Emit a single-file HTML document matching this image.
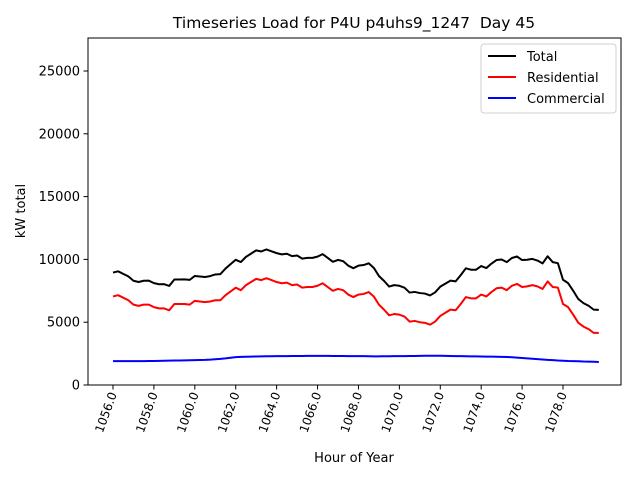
<!DOCTYPE html>
<html><head><meta charset="utf-8"><style>
body{margin:0;background:#fff;}
svg text{font-family:"DejaVu Sans","Liberation Sans",sans-serif;}
</style></head><body>
<svg id="chart" width="640" height="480" xmlns="http://www.w3.org/2000/svg">
<rect width="640" height="480" fill="#fff"/>
<text x="354" y="28" font-size="15.5" text-anchor="middle" style="white-space:pre">Timeseries Load for P4U p4uhs9_1247  Day 45</text>
<g id="grid"></g>
<g id="series"></g>
<rect x="88" y="38" width="533" height="347" fill="none" stroke="#000" stroke-width="1"/>
<text x="354" y="462" font-size="13" text-anchor="middle">Hour of Year</text>
<text transform="translate(25,211) rotate(-90)" font-size="13" text-anchor="middle">kW total</text>
<g>
<rect x="481" y="44" width="135" height="69" rx="3" fill="#fff" stroke="#ccc" opacity="0.9"/>
<g><line x1="488" y1="56" x2="516" y2="56" stroke="#000" stroke-width="2"/><text x="527" y="61" font-size="13">Total</text></g>
<g><line x1="488" y1="77" x2="516" y2="77" stroke="red" stroke-width="2"/><text x="527" y="82" font-size="13">Residential</text></g>
<g><line x1="488" y1="98" x2="516" y2="98" stroke="blue" stroke-width="2"/><text x="527" y="103" font-size="13">Commercial</text></g>
</g>
</svg>
<script>
const startHour = 1056;
const stepHours = 0.25;
const xTicks = [1056,1058,1060,1062,1064,1066,1068,1070,1072,1074,1076,1078];
const yTicks = [0,5000,10000,15000,20000,25000];
const residential = [7050,7150,6950,6750,6400,6300,6400,6400,6200,6100,6100,5950,6450,6450,6450,6400,6700,6650,6600,6650,6750,6750,7150,7450,7750,7550,7950,8200,8450,8350,8500,8350,8200,8100,8150,7950,8000,7750,7800,7800,7900,8100,7800,7500,7650,7550,7200,7000,7200,7250,7400,7050,6400,6000,5550,5650,5600,5450,5050,5100,5000,4950,4800,5050,5500,5750,6000,5950,6450,7000,6900,6900,7200,7050,7400,7700,7750,7550,7900,8050,7800,7850,7950,7850,7650,8250,7800,7750,6450,6200,5600,4950,4650,4450,4150,4150];
const commercial = [1900,1900,1900,1900,1900,1900,1900,1910,1910,1920,1930,1940,1950,1950,1960,1970,1980,1990,2000,2020,2050,2080,2120,2170,2220,2240,2250,2260,2270,2280,2290,2290,2300,2300,2300,2310,2310,2310,2320,2320,2320,2320,2320,2310,2310,2310,2300,2300,2300,2300,2290,2280,2280,2290,2290,2300,2300,2300,2310,2310,2320,2330,2330,2330,2330,2320,2310,2300,2300,2290,2280,2280,2270,2260,2260,2250,2240,2230,2210,2180,2150,2120,2090,2060,2030,2000,1980,1950,1930,1910,1900,1890,1870,1860,1850,1830];
const total = [8950,9050,8850,8650,8300,8200,8300,8310,8110,8020,8030,7890,8400,8400,8410,8370,8680,8640,8600,8670,8800,8830,9270,9620,9970,9790,10200,10460,10720,10630,10790,10640,10500,10400,10450,10260,10310,10060,10120,10120,10220,10420,10120,9810,9960,9860,9500,9300,9500,9550,9690,9330,8680,8290,7840,7950,7900,7750,7360,7410,7320,7280,7130,7380,7830,8070,8310,8250,8750,9290,9180,9180,9470,9310,9660,9950,9990,9780,10110,10230,9950,9970,10040,9910,9680,10250,9780,9700,8380,8110,7500,6840,6520,6310,6000,5980];

const NS="http://www.w3.org/2000/svg";
const xScale = h => 113 + (h-1056)*(450/22);
const yScale = v => 385 - v*(314/25000);
const grid=document.getElementById('grid');
const series=document.getElementById('series');
function mk(tag,attrs,parent){const e=document.createElementNS(NS,tag);for(const k in attrs)e.setAttribute(k,attrs[k]);parent.appendChild(e);return e;}
xTicks.forEach(t=>{
  const x=xScale(t);
  const tk=mk('line',{x1:x,y1:385,x2:x,y2:389.5,stroke:'#000'},grid);
  
  
  const lb=mk('text',{'font-size':12,'text-anchor':'end',transform:`translate(${x+4},${394}) rotate(-70)`},grid);
  lb.textContent=t.toFixed(1);
  
  
});
yTicks.forEach(t=>{
  const y=yScale(t);
  const tk=mk('line',{x1:83.5,y1:y,x2:88,y2:y,stroke:'#000'},grid);
  
  
  const lb=mk('text',{x:80,y:y+4.5,'font-size':13,'text-anchor':'end'},grid);
  lb.textContent=t;
  
  
});
function line(arr,color,name){
  const pts=arr.map((v,i)=>xScale(startHour+i*stepHours).toFixed(2)+','+yScale(v).toFixed(2)).join(' ');
  const p=mk('polyline',{points:pts,fill:'none',stroke:color,'stroke-width':2,'stroke-linejoin':'round'},series);
  
  
}
line(total,'#000','total-line');
line(residential,'red','residential-line');
line(commercial,'blue','commercial-line');
</script>
</body></html>
